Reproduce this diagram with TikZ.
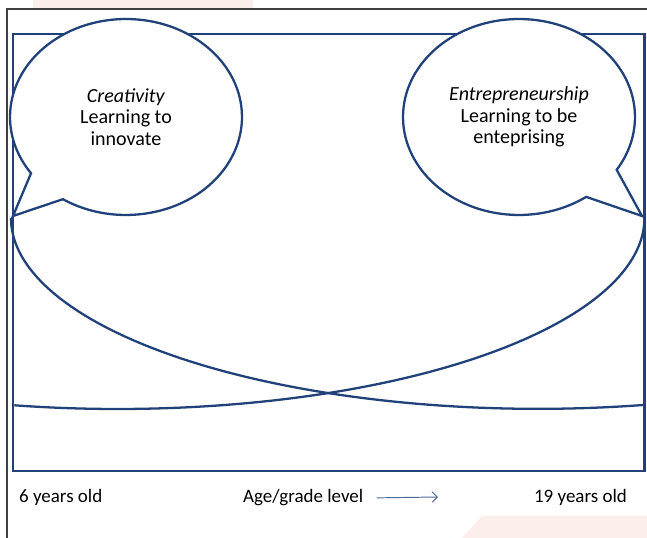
\documentclass[tikz,border=0pt]{standalone}
\usepackage{fontspec}
\setmainfont{Carlito}
\usetikzlibrary{arrows.meta,shapes.callouts}
\definecolor{navy}{HTML}{21417A}
\definecolor{blush}{HTML}{FCEEEA}

\begin{document}
\begin{tikzpicture}[x=0.02cm,y=0.02cm,line width=1.3pt,
                    bubble/.style={ellipse callout,draw=navy,fill=white,inner sep=0pt,
                                   minimum width=4.64cm,minimum height=3.92cm,
                                   callout pointer arc=22,align=center,
                                   font=\fontsize{11.4}{12.1}\selectfont},
                    lbl/.style={inner sep=0pt,font=\fontsize{10.8}{12}\selectfont},
                    agearrow/.style={-{Straight Barb[length=3pt,width=6pt]},
                                     line width=0.55pt,navy!80,shorten <=7pt}]
 % \tikzstyle{every node}=[draw=red]
  \useasboundingbox (0,0) rectangle (647,538);

  % traces of the cropped page
  \fill[blush] (33,538) rectangle (253,530);
  \fill[blush] (462,0) -- (482,22) -- (647,22) -- (647,0) -- cycle;
  \draw[line width=0.7pt,black!75] (7,0) -- (7,529) -- (647,529);

  \draw[navy] (12.7,67) rectangle (644.5,504);

  \node[bubble,callout absolute pointer={(13,322)}]  (C) at (126,421)
       {\textit{Creativity}\\Learning to\\innovate};
  \node[bubble,callout absolute pointer={(642,322)}] (E) at (519,421)
       {\textit{Entrepreneurship}\\Learning to be\\enteprising};

  \draw[navy] (C.pointer) arc[start angle=180,end angle=281.5,
                              x radius=10.54cm,y radius=3.82cm];
  \draw[navy] (E.pointer) arc[start angle=0,end angle=-101.3,
                              x radius=10.54cm,y radius=3.82cm];

  \node[lbl,anchor=base west] (young) at (18,35)  {6 years old};
  \node[lbl,anchor=base west] (age)   at (242,35) {Age/grade level};
  \node[lbl,anchor=base east] (old)   at (628,35) {19 years old};
  \coordinate (ageend) at (438,41);

  \draw[agearrow] (age.east) -- (ageend);
\end{tikzpicture}
\end{document}
